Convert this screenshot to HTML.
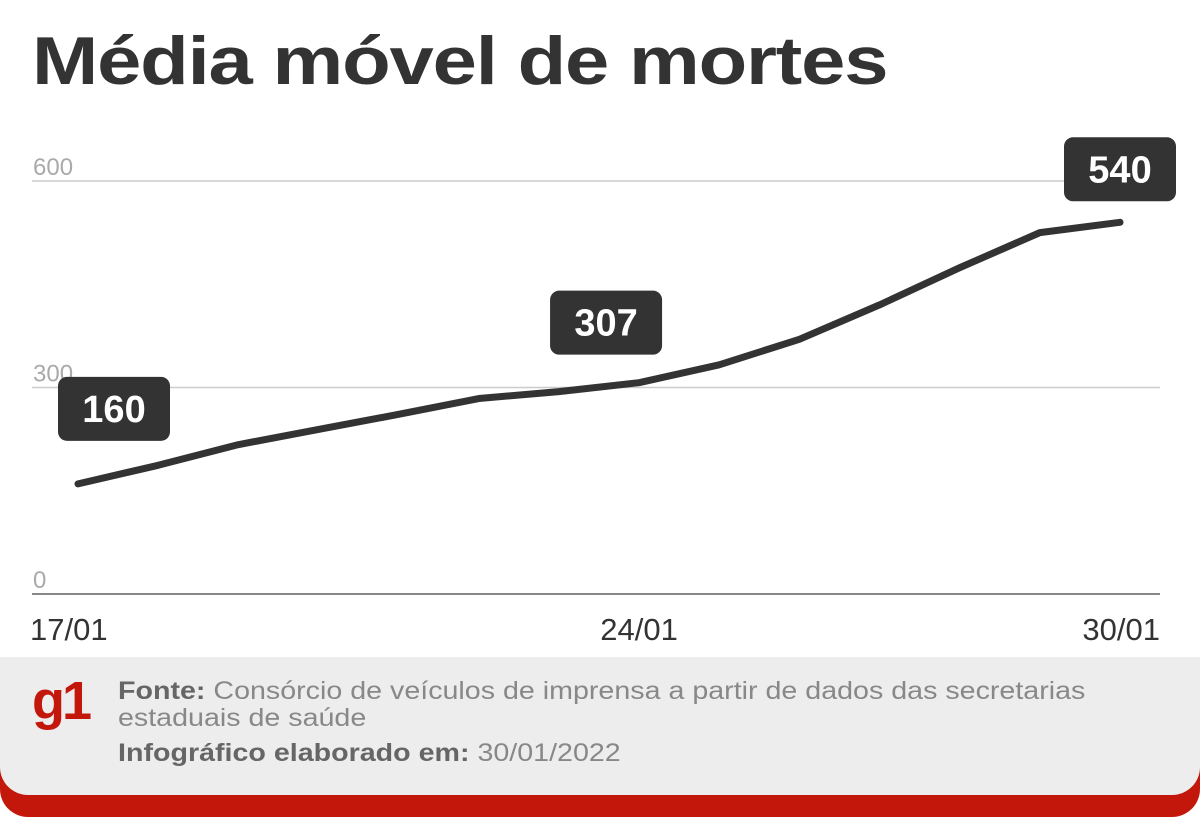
<!DOCTYPE html>
<html><head><meta charset="utf-8"><style>
body{margin:0;width:1200px;height:829px;background:#fff;font-family:"Liberation Sans",sans-serif;position:relative;overflow:hidden}
#title{position:absolute;left:32px;top:22px;font-size:68px;font-weight:bold;color:#333;letter-spacing:-1px;transform:scaleX(1.17);transform-origin:0 0;white-space:nowrap}
#footer-red{position:absolute;left:0;top:657px;width:1200px;height:160px;background:#c4170c;border-radius:0 0 28px 28px}
#footer{position:absolute;left:0;top:657px;width:1200px;height:138px;background:#ededed;border-radius:0 0 28px 28px}
#logo{position:absolute;left:32px;top:670px;font-size:54px;font-weight:bold;color:#c4170c;letter-spacing:-3px}
.ft{position:absolute;left:118px;font-size:25px;color:#888;line-height:27px;transform:scaleX(1.145);transform-origin:0 0;white-space:nowrap}
.ft b{color:#666}
</style></head><body>
<div id="title">Média móvel de mortes</div>
<svg id="chart" width="1200" height="657" style="position:absolute;left:0;top:0"></svg>
<div id="footer-red"></div>
<div id="footer"></div>
<div id="logo">g1</div>
<div class="ft" style="top:678px"><b>Fonte:</b> Consórcio de veículos de imprensa a partir de dados das secretarias<br>estaduais de saúde</div>
<div class="ft" style="top:740px"><b>Infográfico elaborado em:</b> 30/01/2022</div>
<script>
const days=[17,18,19,20,21,22,23,24,25,26,27,28,29,30];
const values=[160,187,217,239,261,284,294,307,333,370,420,474,525,540];
const yTicks=[0,300,600];
const xLabels=["17/01","24/01","30/01"];
const xLabelIdx=[0,7,13];
const callouts=[0,7,13];
const NS="http://www.w3.org/2000/svg";
const svg=document.getElementById('chart');
const x0=78,x1=1120,yBase=594,yTop=181;
const xs=i=>x0+(x1-x0)*i/(days.length-1);
const ys=v=>yBase-(yBase-yTop)*v/600;
function mk(t,a){const e=document.createElementNS(NS,t);for(const k in a)e.setAttribute(k,a[k]);svg.appendChild(e);return e;}
yTicks.forEach(t=>{
  const l=mk('line',{x1:32,x2:1160,y1:ys(t),y2:ys(t),stroke:t===0?'#888':'#ccc','stroke-width':t===0?2:1.5});
  
  
  const tx=mk('text',{x:33,y:ys(t)-6,'font-size':24,fill:'#aaa','font-family':'Liberation Sans, sans-serif'});
  tx.textContent=t;
  
  
});
xLabelIdx.forEach((i,k)=>{
  const anchor=k===0?'start':k===xLabels.length-1?'end':'middle';
  const xx=k===0?30:k===xLabels.length-1?1160:xs(i);
  const tx=mk('text',{x:xx,y:640,'font-size':31,fill:'#333','text-anchor':anchor,'font-family':'Liberation Sans, sans-serif'});
  tx.textContent=xLabels[k];
  
  
});
const p=mk('polyline',{points:values.map((v,i)=>xs(i)+','+ys(v)).join(' '),fill:'none',stroke:'#333','stroke-width':7,'stroke-linejoin':'round','stroke-linecap':'round'});


callouts.forEach((i,k)=>{
  const cx=k===0?114:k===2?1120:xs(i)-33;
  const cy=ys(values[i])-(k===0?75:k===1?60:53);
  const r=mk('rect',{x:cx-56,y:cy-32,width:112,height:64,rx:9,fill:'#333'});
  
  
  const t=mk('text',{x:cx,y:cy+13,'font-size':38,'font-weight':'bold',fill:'#fff','text-anchor':'middle','font-family':'Liberation Sans, sans-serif'});
  t.textContent=values[i];
  
  
});
</script>
</body></html>
